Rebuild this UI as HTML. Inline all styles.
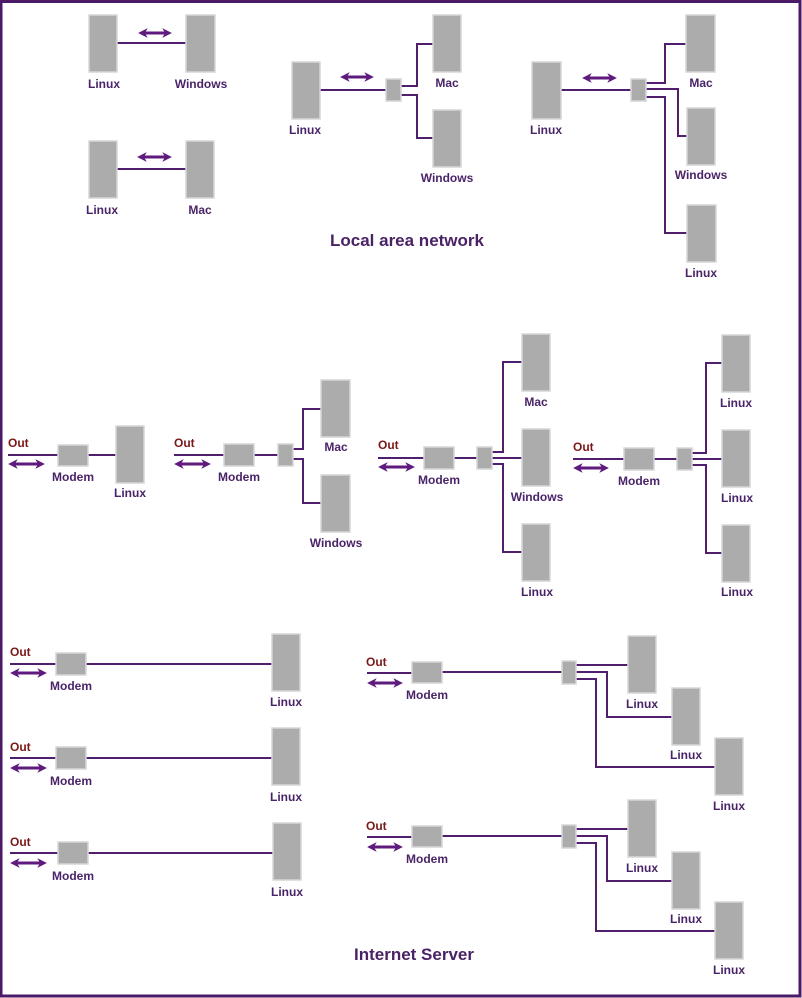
<!DOCTYPE html>
<html><head><meta charset="utf-8"><style>
html,body{margin:0;padding:0;background:#fff}
svg{display:block}
.b{fill:#acacac;stroke:#d6d6d6;stroke-width:1.5}
.l{stroke:#4f1f6d;stroke-width:2;fill:none}
.a{stroke:#5e1a7c;stroke-width:3;fill:none;marker-start:url(#m);marker-end:url(#m)}
text{font-family:"Liberation Sans",sans-serif;font-weight:bold;font-size:12px;fill:#4a2468;text-anchor:middle}
.o{fill:#7a1818;text-anchor:start}
.t{font-size:17px;fill:#4a2266}
</style></head><body>
<svg width="802" height="998" viewBox="0 0 802 998" xmlns="http://www.w3.org/2000/svg">
<defs><marker id="m" viewBox="0 0 10 10" refX="7" refY="5" markerWidth="3.2" markerHeight="3.2" orient="auto-start-reverse"><path d="M0,0 L10,5 L0,10 L3,5 z" fill="#5e1a7c"/></marker></defs>
<rect x="1" y="1.5" width="799" height="994.5" fill="none" stroke="#4a1a66" stroke-width="3"/>

<!-- A -->
<line class="l" x1="117" y1="43" x2="186" y2="43"/>
<line class="a" x1="141" y1="33" x2="169" y2="33"/>
<rect class="b" x="89" y="15" width="28" height="57"/><rect class="b" x="186" y="15" width="29" height="57"/>
<text x="104" y="88">Linux</text><text x="201" y="88">Windows</text>
<!-- B -->
<line class="l" x1="117" y1="169" x2="186" y2="169"/>
<line class="a" x1="140" y1="157" x2="169" y2="157"/>
<rect class="b" x="89" y="141" width="28" height="57"/><rect class="b" x="186" y="141" width="28" height="57"/>
<text x="102" y="214">Linux</text><text x="200" y="214">Mac</text>
<!-- C -->
<line class="l" x1="320" y1="90" x2="386" y2="90"/>
<line class="a" x1="343" y1="77" x2="371" y2="77"/>
<path class="l" d="M401,86 H417 V44 H433 M401,95 H417 V138 H433"/>
<rect class="b" x="292" y="62" width="28" height="57"/><rect class="b" x="386" y="79" width="15" height="22"/>
<rect class="b" x="433" y="15" width="28" height="57"/><rect class="b" x="433" y="110" width="28" height="57"/>
<text x="305" y="134">Linux</text><text x="447" y="87">Mac</text><text x="447" y="182">Windows</text>
<!-- D -->
<line class="l" x1="561" y1="90" x2="631" y2="90"/>
<line class="a" x1="585" y1="78" x2="614" y2="78"/>
<path class="l" d="M646,83 H665 V44 H686 M646,89 H678 V136 H687 M646,97 H665 V233 H687"/>
<rect class="b" x="532" y="62" width="29" height="57"/><rect class="b" x="631" y="79" width="15" height="22"/>
<rect class="b" x="686" y="15" width="29" height="57"/><rect class="b" x="687" y="108" width="28" height="57"/><rect class="b" x="687" y="205" width="29" height="57"/>
<text x="546" y="134">Linux</text><text x="701" y="87">Mac</text><text x="701" y="179">Windows</text><text x="701" y="277">Linux</text>
<text class="t" x="407" y="246">Local area network</text>

<!-- D1 -->
<text class="o" x="8" y="447">Out</text>
<path class="l" d="M8,455 H58 M88,455 H116"/>
<line class="a" x1="11" y1="464" x2="42" y2="464"/>
<rect class="b" x="58" y="445" width="30" height="21"/><rect class="b" x="116" y="426" width="28" height="57"/>
<text x="73" y="481">Modem</text><text x="130" y="497">Linux</text>
<!-- D2 -->
<text class="o" x="174" y="447">Out</text>
<path class="l" d="M174,455 H224 M254,455 H278 M293,449 H303 V409 H321 M293,459 H303 V503 H321"/>
<line class="a" x1="177" y1="464" x2="208" y2="464"/>
<rect class="b" x="224" y="444" width="30" height="22"/><rect class="b" x="278" y="444" width="15" height="22"/>
<rect class="b" x="321" y="380" width="29" height="57"/><rect class="b" x="321" y="475" width="29" height="57"/>
<text x="239" y="481">Modem</text><text x="336" y="451">Mac</text><text x="336" y="547">Windows</text>
<!-- D3 -->
<text class="o" x="378" y="449">Out</text>
<path class="l" d="M378,458 H424 M454,458 H477 M492,452 H503 V362 H522 M492,458 H522 M492,464 H503 V552 H522"/>
<line class="a" x1="381" y1="467" x2="412" y2="467"/>
<rect class="b" x="424" y="447" width="30" height="22"/><rect class="b" x="477" y="447" width="15" height="22"/>
<rect class="b" x="522" y="334" width="28" height="57"/><rect class="b" x="522" y="429" width="28" height="57"/><rect class="b" x="522" y="524" width="28" height="57"/>
<text x="439" y="484">Modem</text><text x="536" y="406">Mac</text><text x="537" y="501">Windows</text><text x="537" y="596">Linux</text>
<!-- D4 -->
<text class="o" x="573" y="451">Out</text>
<path class="l" d="M573,459 H624 M654,459 H677 M692,453 H706 V363 H722 M692,459 H722 M692,465 H706 V553 H722"/>
<line class="a" x1="576" y1="468" x2="606" y2="468"/>
<rect class="b" x="624" y="448" width="30" height="22"/><rect class="b" x="677" y="448" width="15" height="22"/>
<rect class="b" x="722" y="335" width="28" height="57"/><rect class="b" x="722" y="430" width="28" height="57"/><rect class="b" x="722" y="525" width="28" height="57"/>
<text x="639" y="485">Modem</text><text x="736" y="407">Linux</text><text x="737" y="502">Linux</text><text x="737" y="596">Linux</text>

<!-- bottom left -->
<text class="o" x="10" y="656">Out</text>
<path class="l" d="M10,664 H56 M86,664 H272"/>
<line class="a" x1="13" y1="673" x2="44" y2="673"/>
<rect class="b" x="56" y="653" width="30" height="22"/><rect class="b" x="272" y="634" width="28" height="57"/>
<text x="71" y="690">Modem</text><text x="286" y="706">Linux</text>

<text class="o" x="10" y="751">Out</text>
<path class="l" d="M10,758 H56 M86,758 H272"/>
<line class="a" x1="13" y1="768" x2="44" y2="768"/>
<rect class="b" x="56" y="747" width="30" height="22"/><rect class="b" x="272" y="728" width="28" height="57"/>
<text x="71" y="785">Modem</text><text x="286" y="801">Linux</text>

<text class="o" x="10" y="846">Out</text>
<path class="l" d="M10,853 H58 M88,853 H273"/>
<line class="a" x1="13" y1="863" x2="44" y2="863"/>
<rect class="b" x="58" y="842" width="30" height="22"/><rect class="b" x="273" y="823" width="28" height="57"/>
<text x="73" y="880">Modem</text><text x="287" y="896">Linux</text>

<!-- bottom right 1 -->
<text class="o" x="366" y="666">Out</text>
<path class="l" d="M367,673 H412 M442,672 H562 M576,665 H628 M576,672 H607 V717 H672 M576,679 H596 V767 H715"/>
<line class="a" x1="370" y1="683" x2="400" y2="683"/>
<rect class="b" x="412" y="662" width="30" height="21"/><rect class="b" x="562" y="661" width="14" height="23"/>
<rect class="b" x="628" y="636" width="28" height="57"/><rect class="b" x="672" y="688" width="28" height="57"/><rect class="b" x="715" y="738" width="28" height="57"/>
<text x="427" y="699">Modem</text><text x="642" y="708">Linux</text><text x="686" y="759">Linux</text><text x="729" y="810">Linux</text>
<!-- bottom right 2 -->
<text class="o" x="366" y="830">Out</text>
<path class="l" d="M367,837 H412 M442,836 H562 M576,829 H628 M576,836 H607 V881 H672 M576,843 H596 V931 H715"/>
<line class="a" x1="370" y1="847" x2="400" y2="847"/>
<rect class="b" x="412" y="826" width="30" height="21"/><rect class="b" x="562" y="825" width="14" height="23"/>
<rect class="b" x="628" y="800" width="28" height="57"/><rect class="b" x="672" y="852" width="28" height="57"/><rect class="b" x="715" y="902" width="28" height="57"/>
<text x="427" y="863">Modem</text><text x="642" y="872">Linux</text><text x="686" y="923">Linux</text><text x="729" y="974">Linux</text>

<text class="t" x="414" y="960">Internet Server</text>
</svg>
</body></html>
